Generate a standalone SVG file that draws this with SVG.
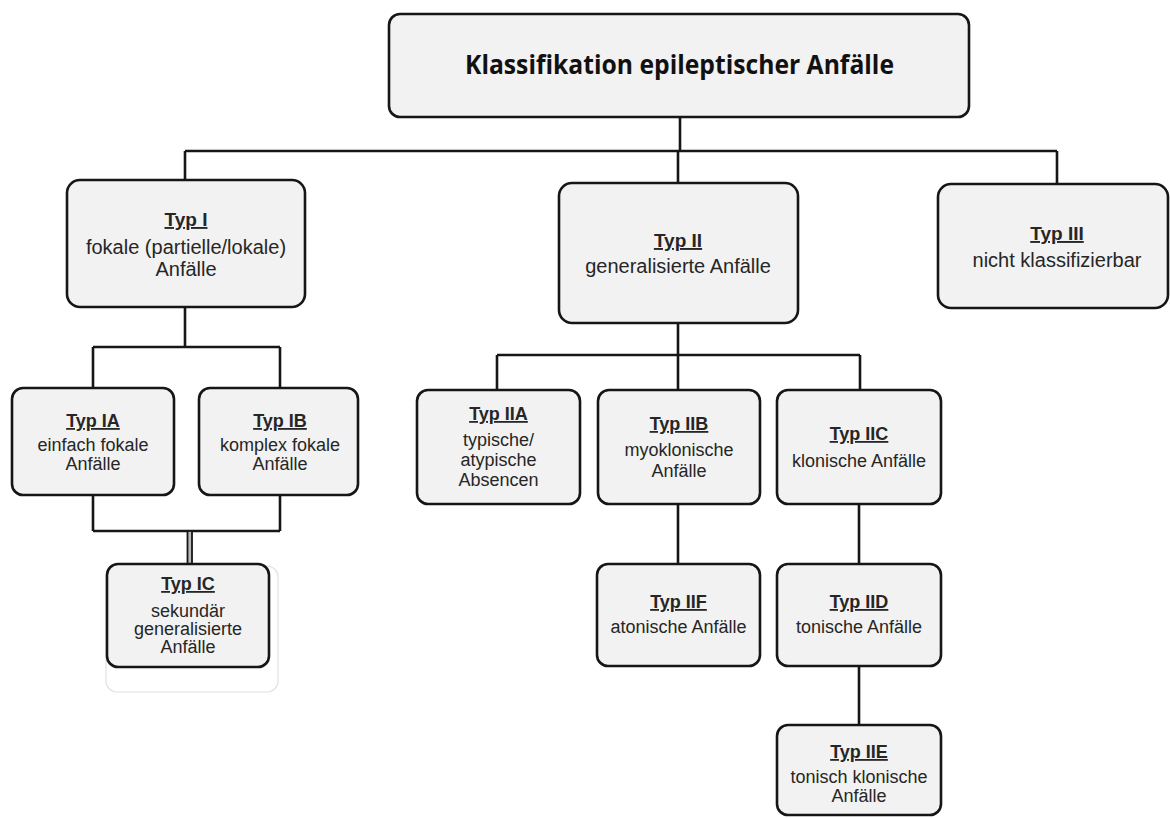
<svg xmlns="http://www.w3.org/2000/svg" width="1170" height="818" viewBox="0 0 1170 818">
<style>
.box{fill:#f2f2f2;stroke:#161616;stroke-width:2.6}
.ln{fill:none;stroke:#161616;stroke-width:2.6}
.t{font-family:"Liberation Sans",Arial,sans-serif;fill:#262626;text-anchor:middle}
.h1{font-size:19px;font-weight:bold;text-decoration:underline}
.b1{font-size:20px}
.h2{font-size:18px;font-weight:bold;text-decoration:underline}
.b2{font-size:18px}
.title{font-family:"Open Sans","Liberation Sans",sans-serif;font-weight:bold;font-size:27px;fill:#111;text-anchor:middle}
</style>
<rect width="1170" height="818" fill="#fff"/>
<g id="connectors">
<path class="ln" d="M680 117V151M185 151H1057M185 151V180M678 151V183M1057 151V184"/>
<path class="ln" d="M185 307V347M93 347H280M93 347V388M280 347V388"/>
<path class="ln" d="M93 495V531M280 495V531M93 531H280"/>
<rect x="187.5" y="531" width="4.5" height="33" fill="#bbb" stroke="#161616" stroke-width="1.8"/>
<path class="ln" d="M678 323V355M497 355H860M497 355V390M678 355V390M860 355V390"/>
<path class="ln" d="M678 504V564M859 504V564M859 666V725"/>
</g>
<g id="title">
<rect class="box" x="389" y="14" width="580" height="103" rx="11"/>
<text class="title" x="679.5" y="74" textLength="429" lengthAdjust="spacingAndGlyphs">Klassifikation epileptischer Anfälle</text>
</g>
<g id="typ1">
<rect class="box" x="67" y="180" width="238" height="127" rx="13"/>
<text class="t h1" x="186" y="226">Typ I</text>
<text class="t b1" x="186" y="254">fokale (partielle/lokale)</text>
<text class="t b1" x="186" y="276">Anfälle</text>
</g>
<g id="typ2">
<rect class="box" x="559" y="183" width="239" height="140" rx="13"/>
<text class="t h1" x="678" y="247">Typ II</text>
<text class="t b1" x="678" y="273">generalisierte Anfälle</text>
</g>
<g id="typ3">
<rect class="box" x="938" y="184" width="230" height="124" rx="13"/>
<text class="t h1" x="1057" y="240">Typ III</text>
<text class="t b1" x="1057" y="267">nicht klassifizierbar</text>
</g>
<g id="typ1a">
<rect class="box" x="12" y="388" width="162" height="107" rx="11"/>
<text class="t h2" x="93" y="427">Typ IA</text>
<text class="t b2" x="93" y="451">einfach fokale</text>
<text class="t b2" x="93" y="470">Anfälle</text>
</g>
<g id="typ1b">
<rect class="box" x="199" y="388" width="159" height="107" rx="11"/>
<text class="t h2" x="280" y="427">Typ IB</text>
<text class="t b2" x="280" y="451">komplex fokale</text>
<text class="t b2" x="280" y="470">Anfälle</text>
</g>
<g id="typ1c">
<rect x="106" y="566" width="172" height="126" rx="11" fill="none" stroke="#e2e2e2" stroke-width="1.2"/>
<rect class="box" x="107" y="564" width="162" height="103" rx="11"/>
<text class="t h2" x="188" y="590">Typ IC</text>
<text class="t b2" x="188" y="617">sekundär</text>
<text class="t b2" x="188" y="635">generalisierte</text>
<text class="t b2" x="188" y="653">Anfälle</text>
</g>
<g id="typ2a">
<rect class="box" x="417" y="390" width="163" height="114" rx="11"/>
<text class="t h2" x="498.5" y="420">Typ IIA</text>
<text class="t b2" x="498.5" y="446">typische/</text>
<text class="t b2" x="498.5" y="466">atypische</text>
<text class="t b2" x="498.5" y="486">Absencen</text>
</g>
<g id="typ2b">
<rect class="box" x="598" y="390" width="162" height="114" rx="11"/>
<text class="t h2" x="679" y="430">Typ IIB</text>
<text class="t b2" x="679" y="456">myoklonische</text>
<text class="t b2" x="679" y="477">Anfälle</text>
</g>
<g id="typ2c">
<rect class="box" x="777" y="390" width="164" height="114" rx="11"/>
<text class="t h2" x="859" y="440">Typ IIC</text>
<text class="t b2" x="859" y="467">klonische Anfälle</text>
</g>
<g id="typ2f">
<rect class="box" x="597" y="564" width="163" height="102" rx="11"/>
<text class="t h2" x="678.5" y="608">Typ IIF</text>
<text class="t b2" x="678.5" y="633">atonische Anfälle</text>
</g>
<g id="typ2d">
<rect class="box" x="777" y="564" width="164" height="102" rx="11"/>
<text class="t h2" x="859" y="608">Typ IID</text>
<text class="t b2" x="859" y="633">tonische Anfälle</text>
</g>
<g id="typ2e">
<rect class="box" x="777" y="725" width="164" height="90" rx="11"/>
<text class="t h2" x="859" y="758">Typ IIE</text>
<text class="t b2" x="859" y="783">tonisch klonische</text>
<text class="t b2" x="859" y="802">Anfälle</text>
</g>
</svg>
